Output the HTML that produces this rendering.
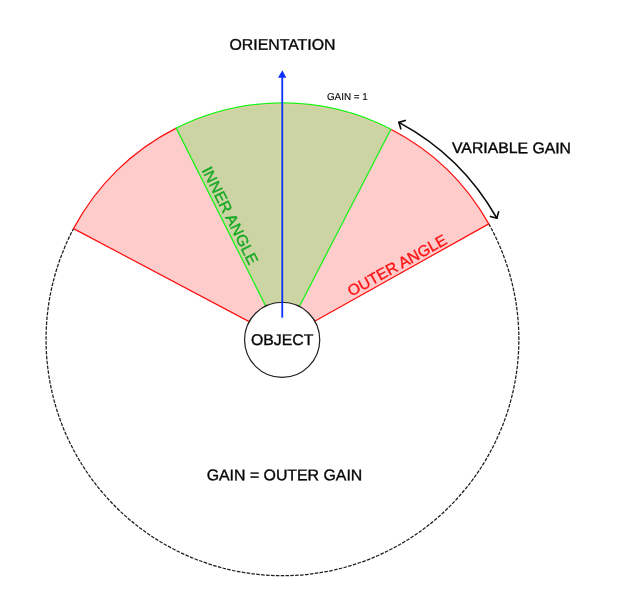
<!DOCTYPE html>
<html><head><meta charset="utf-8">
<style>
html,body{margin:0;padding:0;background:#fff;}
svg{display:block;will-change:transform;}
text{font-family:"Liberation Sans",sans-serif;stroke-width:0.36;paint-order:stroke fill;}
.k{stroke:#050505;}.g{stroke:#14a823;}.r{stroke:#ff1414;}
</style></head><body>
<svg width="617" height="611" viewBox="0 0 617 611">
<rect width="617" height="611" fill="#ffffff"/>
<!-- dashed outer circle (lower part) -->
<path d="M 488.75 223.86 A 236.4 236.4 0 1 1 73.57 228.61" fill="none" stroke="#1c1c1c" stroke-width="1.25" stroke-dasharray="3.55 1.35"/>
<!-- outer (pink) sector -->
<path d="M 282.45 339.3 L 73.57 228.61 A 236.4 236.4 0 0 1 488.75 223.86 Z" fill="rgb(255,204,204)"/>
<path d="M 176.23 128.11 A 236.4 236.4 0 0 0 73.57 228.61 L 282.45 339.3 L 488.75 223.86 A 236.4 236.4 0 0 0 390.87 129.23" fill="none" stroke="#ff0c0c" stroke-width="1.2" stroke-linejoin="round"/>
<!-- inner (green) sector -->
<path d="M 282.45 339.3 L 176.23 128.11 A 236.4 236.4 0 0 1 390.87 129.23 Z" fill="rgb(205,212,163)" stroke="#16f416" stroke-width="1.25" stroke-linejoin="round"/>
<!-- faint seams seen in target -->
<path d="M 178.63 128.31 A 235.15 235.15 0 0 1 388.47 129.41" fill="none" stroke="rgb(255,196,180)" stroke-opacity="0.55" stroke-width="0.9"/>
<line x1="280.45" y1="104.5" x2="280.45" y2="303" stroke="rgb(240,225,140)" stroke-opacity="0.6" stroke-width="0.8"/>
<!-- object circle -->
<circle cx="282.15" cy="339.85" r="37.6" fill="#ffffff" stroke="#1e1e1e" stroke-width="1.2"/>
<!-- orientation arrow -->
<line x1="282.25" y1="317.7" x2="282.25" y2="76" stroke="#0a30ff" stroke-width="1.8"/>
<path d="M 282.3 70.2 L 286.35 77.8 L 278.0 77.8 Z" fill="#0a30ff"/>
<!-- variable gain arrow -->
<path d="M 398.87 122.36 A 246.2 246.2 0 0 1 496.82 218.21" fill="none" stroke="#0a0a0a" stroke-width="1.65" stroke-linecap="round"/>
<path d="M 400.77 128.68 L 398.87 122.36 L 405.19 120.46" fill="none" stroke="#0a0a0a" stroke-width="1.65" stroke-linecap="round" stroke-linejoin="round"/>
<path d="M 498.58 211.86 L 496.82 218.21 L 490.46 216.45" fill="none" stroke="#0a0a0a" stroke-width="1.65" stroke-linecap="round" stroke-linejoin="round"/>
<!-- labels -->
<text transform="rotate(0.03 229.5 49.8)" x="229.5" y="49.8" font-size="15.4" class="k" fill="#050505" textLength="105.9" lengthAdjust="spacingAndGlyphs">ORIENTATION</text>
<text transform="rotate(0.03 326.9 99.9)" x="326.9" y="99.9" font-size="10" class="k" style="stroke-width:0.12" fill="#050505" textLength="40.9" lengthAdjust="spacingAndGlyphs">GAIN = 1</text>
<text transform="rotate(0.03 452.0 153.1)" x="452.0" y="153.1" font-size="15.4" class="k" fill="#050505" textLength="119.0" lengthAdjust="spacingAndGlyphs">VARIABLE GAIN</text>
<text transform="rotate(0.03 206.7 480.3)" x="206.7" y="480.3" font-size="15.4" class="k" fill="#050505" textLength="155.6" lengthAdjust="spacingAndGlyphs">GAIN = OUTER GAIN</text>
<text transform="rotate(0.03 251.0 344.9)" x="251.0" y="344.9" font-size="15.4" class="k" fill="#050505" textLength="62.4" lengthAdjust="spacingAndGlyphs">OBJECT</text>
<text transform="translate(201.4 169.9) rotate(63.5)" x="0" y="0" font-size="15.4" class="g" fill="#14a823" textLength="107.0" lengthAdjust="spacingAndGlyphs">INNER ANGLE</text>
<text transform="translate(351.3 296.8) rotate(-29)" x="0" y="0" font-size="15.4" class="r" fill="#ff1414" textLength="110.8" lengthAdjust="spacingAndGlyphs">OUTER ANGLE</text>
</svg>
</body></html>
